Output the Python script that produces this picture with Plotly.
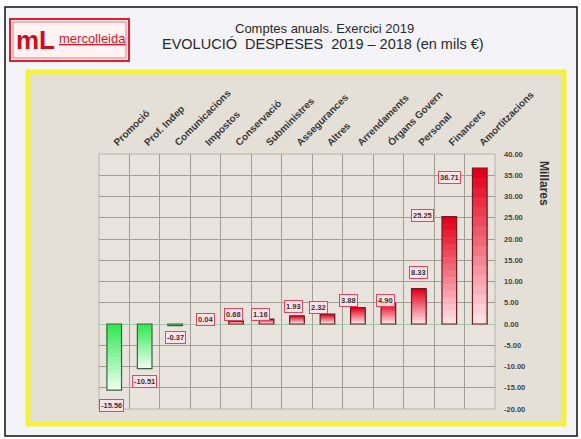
import plotly.graph_objects as go

categories = ["Promoció", "Prof. Indep", "Comunicacions", "Impostos", "Conservació",
              "Subministres", "Assegurances", "Altres", "Arrendaments", "Órgans Govern",
              "Personal", "Financers", "Amortitzacions"]
values = [-15.56, -10.51, -0.37, 0.04, 0.68, 1.16, 1.93, 2.32, 3.88, 4.90, 8.33, 25.25, 36.71]
y_ticks = [40, 35, 30, 25, 20, 15, 10, 5, 0, -5, -10, -15, -20]

# label offsets in pixels (style only)
label_dx = [-3, 0, 0, 0, -3, -6, -4, -9, -9, -3, 0, -27, -30]
label_dy = [-15, -13, -12, 4, 7, 5, 9, 7, 7, 3, 16, 1, -10]

W, H = 581, 439
ML, MT = 99, 154
MR = W - 495
MB = H - 409
PW, PH = W - ML - MR, H - MT - MB


def px(x):
    return (x - ML) / PW


def py(y):
    return (H - MB - y) / PH


FONT = "Liberation Sans, Arial, sans-serif"
xs = list(range(len(categories)))

RED_D = (228, 0, 26)
RED_L = (255, 238, 242)
GRN_D = (52, 232, 84)
GRN_L = (246, 255, 246)


def mix(c1, c2, t):
    return "rgb(%d,%d,%d)" % tuple(round(a * t + b * (1 - t)) for a, b in zip(c1, c2))


fig = go.Figure()
N = 16
for k in range(N, 0, -1):
    f = k / N
    cols = []
    for v in values:
        if v >= 0:
            cols.append(mix(RED_D, RED_L, f))
        else:
            cols.append(mix(GRN_D, GRN_L, (N - k + 1) / N))
    fig.add_trace(go.Bar(x=xs, y=[v * f for v in values], width=0.48,
                         marker=dict(color=cols, line=dict(width=0)),
                         hoverinfo="skip", showlegend=False))
# outline
fig.add_trace(go.Bar(x=xs, y=values, width=0.48,
                     marker=dict(color="rgba(0,0,0,0)",
                                 line=dict(width=1.2,
                                           color=["#6e1b22" if v >= 0 else "#3f5f44" for v in values])),
                     showlegend=False, hovertemplate="%{y:.2f}<extra></extra>"))

annotations = []
for i, v in enumerate(values):
    annotations.append(dict(x=xs[i], y=v, xref="x", yref="y", text="<b>%.2f</b>" % v,
                            showarrow=False, xshift=label_dx[i], yshift=label_dy[i],
                            xanchor="center", yanchor="middle",
                            font=dict(family=FONT, size=7.5, color="#333"),
                            bgcolor="rgba(255,226,232,0.9)", bordercolor="#e04660",
                            borderwidth=1, borderpad=1))


def ptext(x, y, text, **kw):
    d = dict(x=px(x), y=py(y), xref="paper", yref="paper", text=text, showarrow=False,
             xanchor="center", yanchor="middle")
    d.update(kw)
    return d


annotations += [
    ptext(324, 29, "Comptes anuals. Exercici 2019",
          font=dict(family=FONT, size=13, color="#2a2a2a")),
    ptext(323, 44, "EVOLUCIÓ  DESPESES  2019 – 2018 (en mils €)",
          font=dict(family=FONT, size=14.5, color="#2a2a2a")),
    ptext(35, 40, "<b>mL</b>", font=dict(family=FONT, size=26, color="#c8101e")),
    ptext(92, 38, "<span style='text-decoration:underline'>mercolleida</span>",
          font=dict(family="Liberation Sans Narrow, Liberation Sans, Arial", size=13, color="#d81426")),
    ptext(544, 183, "<b>Millares</b>", textangle=90,
          font=dict(family=FONT, size=12, color="#333")),
]


def prect(x0, y0, x1, y1, **kw):
    d = dict(type="rect", xref="paper", yref="paper", x0=px(x0), x1=px(x1), y0=py(y0), y1=py(y1),
             layer="below")
    d.update(kw)
    return d


shapes = [
    prect(5, 7, 577, 436, line=dict(color="#111", width=1.5), fillcolor="#f3f3f8"),
    prect(28, 72, 564, 424, line=dict(color="#f4f23c", width=5), fillcolor="#e4dfd7"),
    prect(10, 19, 129, 61, line=dict(color="#e02030", width=2), fillcolor="#fff2f2"),
    prect(13, 22, 126, 58, line=dict(color="#f07080", width=1), fillcolor="rgba(0,0,0,0)"),
    dict(type="rect", xref="paper", yref="paper", x0=0, x1=1, y0=0, y1=1,
         line=dict(color="#b8b3aa", width=1), fillcolor="#e8e4dd", layer="below"),
]

fig.update_layout(
    width=W, height=H, margin=dict(l=ML, r=MR, t=MT, b=MB),
    paper_bgcolor="white", plot_bgcolor="rgba(0,0,0,0)",
    barmode="overlay", bargap=0.5,
    annotations=annotations, shapes=shapes,
    xaxis=dict(range=[-0.5, len(categories) - 0.5], side="top", tickmode="array",
               tickvals=xs, ticktext=["<b>%s</b>" % c for c in categories], tickangle=-45,
               tickfont=dict(family=FONT, size=10, color="#3a3a3a"),
               ticklabelstandoff=3,
               showgrid=False, zeroline=False, ticks="", showline=False,
               minor=dict(tick0=0.5, dtick=1, showgrid=True, gridcolor="#a29e96", gridwidth=1, ticks="")),
    yaxis=dict(range=[-20, 40], side="right", tickmode="array", tickvals=y_ticks,
               ticktext=["<b>%.2f</b>" % t for t in y_ticks],
               tickfont=dict(family=FONT, size=7.5, color="#444"), ticks="",
               ticklabelstandoff=8,
               showgrid=True, gridcolor="#a29e96", gridwidth=1,
               zeroline=True, zerolinecolor="#9fc8a8", zerolinewidth=1, showline=False),
)

fig.write_html("out.html", config={"displayModeBar": False},
               post_script="document.body.style.margin='0';")
